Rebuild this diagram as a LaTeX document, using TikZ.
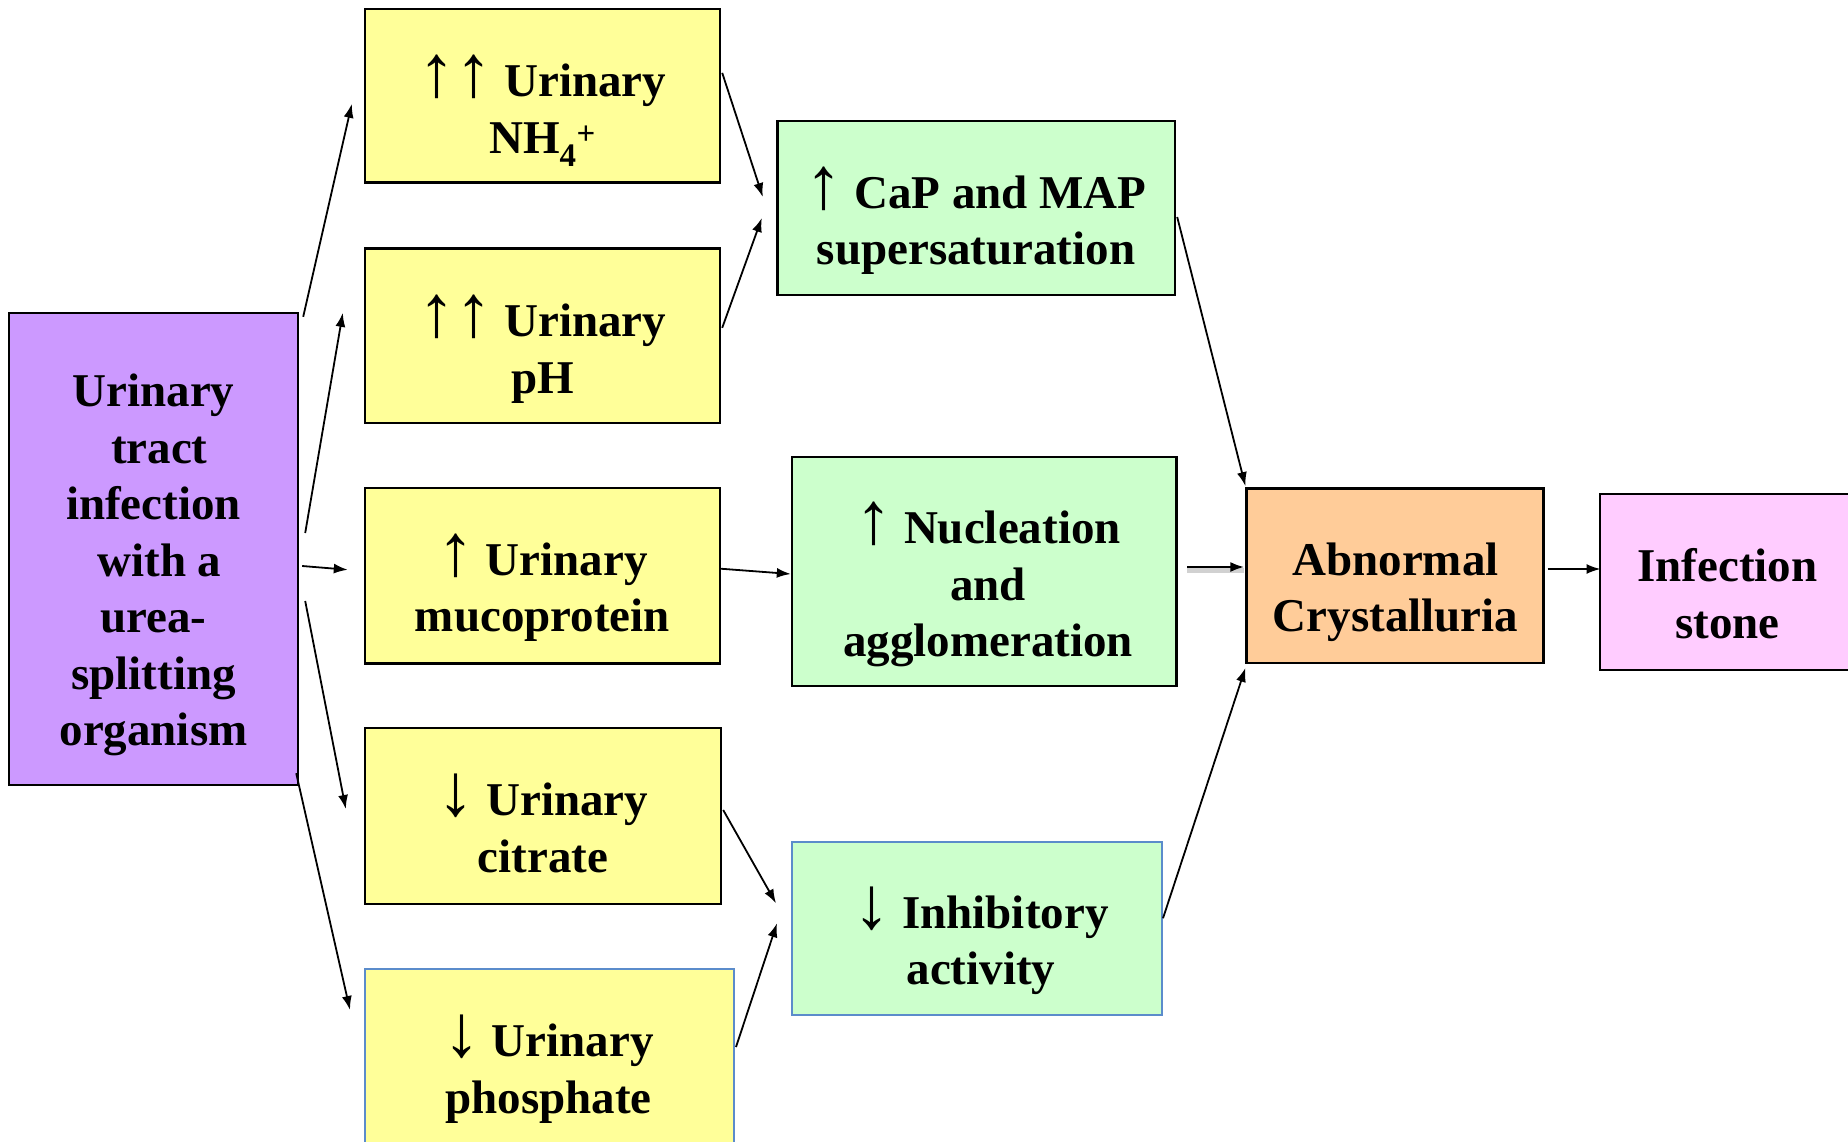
\documentclass[tikz,border=0pt]{standalone}
\usepackage{fontspec}
\setmainfont{Liberation Serif}
\usetikzlibrary{arrows.meta,calc}
\definecolor{cpurple}{HTML}{CC99FF}
\definecolor{cyellow}{HTML}{FFFF99}
\definecolor{cgreen}{HTML}{CCFFCC}
\definecolor{corange}{HTML}{FFCC99}
\definecolor{cpink}{HTML}{FFCCFF}
\definecolor{cblue}{HTML}{5B8CCB}
\newcommand\myup{{\fontsize{74}{74}\selectfont\mdseries ↑}}
\newcommand\mydn{{\fontsize{74}{74}\selectfont\mdseries ↓}}
\newcommand\mystrut{\rule{0pt}{48pt}}
\begin{document}
\begin{tikzpicture}[x=1pt,y=-1pt,
  mybox/.style={draw=black, line width=2.4pt, inner sep=0pt},
  bluebox/.style={draw=cblue, line width=2pt, inner sep=0pt},
  txt/.style={anchor=north, align=center, inner sep=0pt,
    font=\fontsize{47}{56.5}\selectfont\bfseries},
  conn/.style={line width=1.8pt, -{Latex[length=14pt,width=10pt]}}]
\useasboundingbox (0,0) rectangle (1848,1142);
\fill[white] (0,0) rectangle (1848,1142);
% boxes
\node[mybox, fill=cpurple, minimum width=289pt, minimum height=472pt] (P) at (153.5,549) {};
\node[mybox, fill=cyellow, minimum width=355pt, minimum height=173.7pt] (N1) at (542.5,95.85) {};
\node[mybox, fill=cyellow, minimum width=355pt, minimum height=174.3pt] (N2) at (542.5,335.85) {};
\node[mybox, fill=cyellow, minimum width=355pt, minimum height=175.5pt] (N3) at (542.5,575.75) {};
\node[mybox, fill=cyellow, minimum width=356pt, minimum height=176pt] (N4) at (543,816) {};
\node[bluebox, fill=cyellow, minimum width=369pt, minimum height=190pt] (N5) at (549.5,1064) {};
\node[mybox, fill=cgreen, minimum width=397.5pt, minimum height=174pt] (C1) at (976.25,208) {};
\node[mybox, fill=cgreen, minimum width=384.5pt, minimum height=229pt] (C2) at (984.25,571.5) {};
\node[bluebox, fill=cgreen, minimum width=370pt, minimum height=173.5pt] (C3) at (977,928.25) {};
\node[mybox, fill=corange, minimum width=296.8pt, minimum height=174.4pt] (A) at (1395,575.5) {};
\node[mybox, fill=cpink, minimum width=280pt, minimum height=176pt] (S) at (1739.7,582) {};
% texts
\node[txt] (tP) at (153.5,358.7) {\mystrut Urinary\\~tract\\infection\\~with a\\urea-\\splitting\\organism};
\node[txt] (tN1) at (542.5,48.7) {\mystrut\myup\myup\ Urinary\\NH\textsubscript{4}\textsuperscript{+}};
\node[txt] (tN2) at (542.5,288.4) {\mystrut\myup\myup\ Urinary\\pH};
\node[txt] (tN3) at (542.5,527) {\mystrut\myup\ Urinary\\mucoprotein};
\node[txt] (tN4) at (543,767.5) {\mystrut\mydn\ Urinary\\citrate};
\node[txt] (tN5) at (548.5,1008.7) {\mystrut\mydn\ Urinary\\phosphate};
\node[txt] (tC1) at (976,160.3) {\mystrut\myup\ CaP and MAP\\supersaturation};
\node[txt] (tC2) at (988,495.3) {\mystrut\myup\ Nucleation\\and\\agglomeration};
\node[txt] (tC3) at (981,880) {\mystrut\mydn\ Inhibitory\\activity};
\node[txt] (tA) at (1395.5,527) {\mystrut Abnormal\\Crystalluria};
\node[txt] (tS) at (1727.5,533.7) {\mystrut Infection\\stone};
% connectors
\draw[conn] ($(P.north east)+(4,5)$) -- ($(N1.west)+(-12,8)$);
\draw[conn] ($(P.east)+(6,-16)$) -- ($(N2.west)+(-21,-23)$);
\draw[conn] ($(P.east)+(3,17)$) -- ($(N3.west)+(-16,-6)$);
\draw[conn] ($(P.east)+(6,52)$) -- ($(N4.west)+(-18,-7)$);
\draw[conn] ($(P.south east)+(-3,-13)$) -- ($(N5.north west)+(-14,42)$);
\draw[conn] ($(N1.east)+(1,-23)$) -- ($(C1.west)+(-13.5,-11)$);
\draw[conn] ($(N2.east)+(1,-8)$) -- ($(C1.west)+(-14.5,10)$);
\draw[conn] ($(N3.east)+(0,-7)$) -- ($(C2.west)+(0,2.5)$);
\draw[conn] ($(N4.east)+(1,-6)$) -- ($(C3.west)+(-15,-25)$);
\draw[conn] ($(N5.north east)+(1,79)$) -- ($(C3.west)+(-14,-5)$);
\draw[conn] ($(C1.east)+(1,9)$) -- ($(A.north west)+(0,-1)$);
\draw[conn, line width=2.6pt, preaction={draw=black!18, line width=5pt, -, transform canvas={yshift=-3pt}}] ($(C2.east)+(9.5,-4.5)$) -- ($(A.west)+(-1,-8.5)$);
\draw[conn] ($(C3.east)+(0,-10)$) -- ($(A.south west)+(0,4)$);
\draw[conn] ($(A.east)+(3,-6.5)$) -- ($(S.west)+(2,-13)$);
\end{tikzpicture}
\end{document}
